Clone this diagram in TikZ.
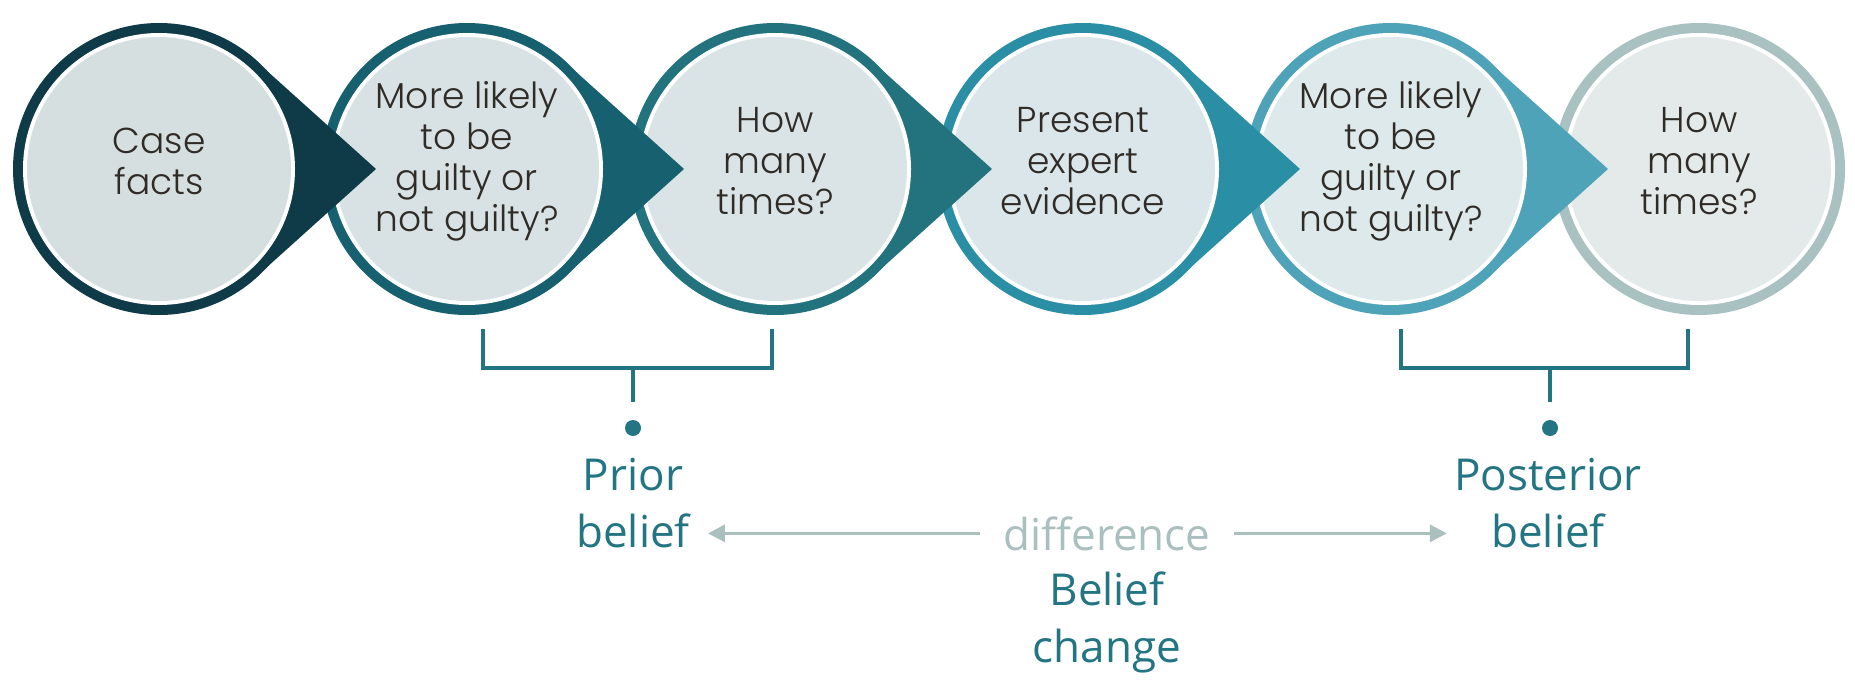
\documentclass[tikz,border=0pt]{standalone}
\usepackage{fontspec}
\setmainfont{Poppins}[UprightFont={* Light}]
\newfontfamily\labelfont{Open Sans}
\usetikzlibrary{arrows.meta}
\definecolor{c1}{HTML}{0F3A47}
\definecolor{c2}{HTML}{17606F}
\definecolor{c3}{HTML}{23737F}
\definecolor{c4}{HTML}{2A8FA5}
\definecolor{c5}{HTML}{4FA3B8}
\definecolor{c6}{HTML}{A9C1C1}
\definecolor{f1}{HTML}{D6DFE0}
\definecolor{f2}{HTML}{D8E2E4}
\definecolor{f3}{HTML}{DAE4E6}
\definecolor{f4}{HTML}{DAE6E9}
\definecolor{f5}{HTML}{DEE9EB}
\definecolor{f6}{HTML}{E4EAEA}
\definecolor{txt}{HTML}{2F2B26}
\definecolor{tealc}{HTML}{237584}
\definecolor{gry}{HTML}{AAC0BF}
\newcommand\stagering[2]{%
  \fill[#2] (#1,169) circle (146);}
\newcommand\stagetip[2]{%
  \fill[#2] ({#1+217},169) -- ({#1+97},61) -- ({#1+97},277) -- cycle;}
\newcommand\stageinner[2]{%
  \fill[white] (#1,169) circle (136);
  \fill[#2] (#1,169) circle (132);}
\begin{document}
\begin{tikzpicture}[x=1pt,y=-1pt,
  stagetext/.style={align=center,inner sep=0pt,text=txt,font=\fontsize{36}{41}\selectfont},
  lbl/.style={align=center,inner sep=0pt,text=tealc,font=\labelfont\fontsize{44}{57}\selectfont},
  brk/.style={draw=tealc,line width=4pt},
  arr/.style={draw=gry,line width=3pt,-{Triangle[length=17pt,width=17pt]}}]
\useasboundingbox (0,0) rectangle (1855,685);
\fill[white] (0,0) rectangle (1855,685);
% discs, right to left so each tip lies over the next disc
\stagering{1699}{c6}\stageinner{1699}{f6}
\stagering{1391}{c5}\stagetip{1391}{c5}\stageinner{1391}{f5}
\stagering{1083}{c4}\stagetip{1083}{c4}\stageinner{1083}{f4}
\stagering{775}{c3}\stagetip{775}{c3}\stageinner{775}{f3}
\stagering{467}{c2}\stagetip{467}{c2}\stageinner{467}{f2}
\stagering{159}{c1}\stagetip{159}{c1}\stageinner{159}{f1}
% texts
\node[stagetext] (s1) at (159,161) {Case\\facts};
\node[stagetext] (s2) at (467,161) {More likely\\to be\\guilty or\\not guilty?};
\node[stagetext] (s3) at (775,161) {How\\many\\times?};
\node[stagetext] (s4) at (1083,161) {Present\\expert\\evidence};
\node[stagetext] (s5) at (1391,161) {More likely\\to be\\guilty or\\not guilty?};
\node[stagetext] (s6) at (1699,161) {How\\many\\times?};
% brackets
\coordinate (b1l) at (483,329);
\coordinate (b1r) at (772,329);
\coordinate (b1m) at (633,368);
\coordinate (d1) at (633,428);
\draw[brk] (b1l) -- (b1l |- b1m) -- (b1r |- b1m) -- (b1r);
\draw[brk] (b1m) -- ++(0,34);
\fill[tealc] (d1) circle (8);
\coordinate (b2l) at (1401,329);
\coordinate (b2r) at (1688,329);
\coordinate (b2m) at (1550,368);
\coordinate (d2) at (1550,428);
\draw[brk] (b2l) -- (b2l |- b2m) -- (b2r |- b2m) -- (b2r);
\draw[brk] (b2m) -- ++(0,34);
\fill[tealc] (d2) circle (8);
% labels
\node[lbl,anchor=north] (prior) at (633,458) {Prior\\belief};
\node[lbl,anchor=north] (post) at (1548,458) {Posterior\\belief};
\node[lbl,anchor=base,text=gry] (diff) at (1107,550) {difference};
\node[lbl,anchor=north] (chg) at (1107,572) {Belief\\change};
\draw[arr] ([xshift=-23pt]diff.west) -- ([xshift=18pt]prior.east |- diff.west);
\draw[arr] ([xshift=23pt]diff.east) -- ([xshift=-7pt]post.west |- diff.east);
\end{tikzpicture}
\end{document}
